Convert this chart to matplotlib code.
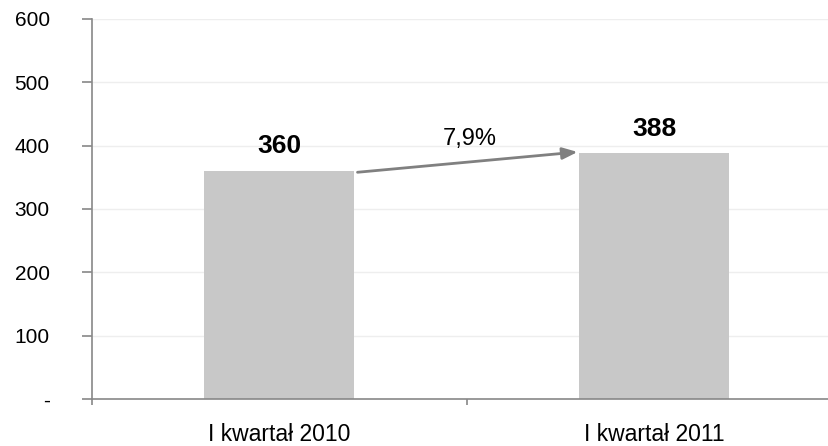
import matplotlib
matplotlib.use("Agg")
import matplotlib.pyplot as plt

categories = ["I kwartał 2010", "I kwartał 2011"]
values = [360, 388]
change_label = "7,9%"
yticks = [0, 100, 200, 300, 400, 500, 600]
ytick_labels = ["-", "100", "200", "300", "400", "500", "600"]

plt.rcParams['font.family'] = ['Liberation Sans', 'DejaVu Sans']

fig = plt.figure(figsize=(8.29, 4.46), dpi=100)
W, H = 829, 446
left, right, top, bottom = 92, 842, 19, 399
ax = fig.add_axes([left / W, 1 - bottom / H, (right - left) / W, (bottom - top) / H])

x = list(range(len(categories)))
ax.bar(x, values, width=0.4, color="#c8c8c8", zorder=2)
ax.set_xlim(-0.5, 1.5)
ax.set_ylim(0, 600)
ax.set_yticks(yticks)
ax.set_yticklabels(ytick_labels, fontsize=15)
ax.set_xticks([-0.5, 0.5, 1.5], minor=False)
ax.set_xticklabels([])
ax.set_xticks(x, minor=True)
ax.set_xticklabels(categories, minor=True, fontsize=16.5)
ax.tick_params(axis='x', which='minor', length=0, pad=17)
ax.tick_params(axis='x', which='major', length=4, color="#888888", width=1.2)
ax.tick_params(axis='y', length=7, color="#888888", width=1.2, pad=23.5)

ax.grid(axis='y', color="#eeeeee", linewidth=1, zorder=0)
for s in ['top', 'right']:
    ax.spines[s].set_visible(False)
for s in ['left', 'bottom']:
    ax.spines[s].set_color("#888888")
    ax.spines[s].set_linewidth(1.2)

label_offsets = [39, 39]
for xi, v, off in zip(x, values, label_offsets):
    ax.text(xi, v + off, str(v), ha='center', va='center', fontsize=19, fontweight='bold')

ax.annotate("", xy=(0.795, values[1] + 2), xytext=(0.208, values[0] - 2),
            arrowprops=dict(arrowstyle="-|>,head_length=0.9,head_width=0.35", color="#808080", lw=2,
                            shrinkA=0, shrinkB=0))
ax.text(0.508, 410, change_label, ha='center', va='center', fontsize=17)

fig.savefig("out.png", dpi=100)
